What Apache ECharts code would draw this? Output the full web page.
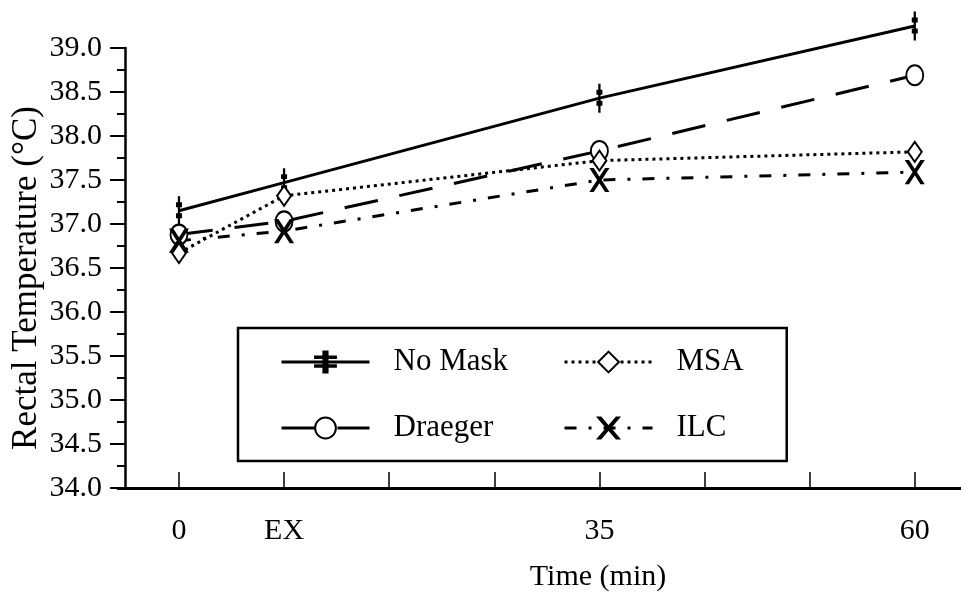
<!DOCTYPE html>
<html>
<head>
<meta charset="utf-8">
<script src="https://cdn.jsdelivr.net/npm/echarts@6/dist/echarts.min.js"></script>
<style>
html,body{margin:0;padding:0;background:#fff;}
#chart{width:961px;height:593px;}
</style>
</head>
<body>
<div id="chart"></div>
<script>
// x positions (tick index) and their labels
const timePos = [0, 1, 4, 7];
const timeLabels = ['0', 'EX', '35', '60'];
const xTickPos = [0, 1, 2, 3, 4, 5, 6, 7];

// Rectal temperature (°C)
const noMask  = [37.15, 37.47, 38.43, 39.25];
const draeger = [36.88, 37.03, 37.83, 38.69];
const msa     = [36.67, 37.32, 37.72, 37.82];
const ilc     = [36.81, 36.92, 37.50, 37.59];

const FONT = 'Liberation Serif';
const pair = arr => arr.map((v, i) => [timePos[i], v]);

const ddagger = 'path://M5,0h2v26h-2z M1,6h10v2h-10z M1,17h10v2h-10z';
const xMark = 'path://M0,0L2.5,0L10,9.5L17.5,0L20,0L11.3,11L20,22L17.5,22L10,12.5L2.5,22L0,22L8.7,11Z';

function mk(name, data, symbol, size, dash) {
  return {
    name: name, type: 'line', data: pair(data), clip: false,
    symbol: symbol, symbolSize: size, symbolKeepAspect: true,
    showAllSymbol: true,
    lineStyle: {color: '#000', width: 3, type: dash},
    itemStyle: {color: '#000', borderColor: '#000', borderWidth: 2},
    emphasis: {disabled: true}
  };
}

const chart = echarts.init(document.getElementById('chart'), null, {renderer: 'canvas'});
chart.setOption({
  animation: false,
  backgroundColor: '#fff',
  grid: {left: 118, right: 0, top: 48, bottom: 105, containLabel: false, outerBoundsMode: 'none'},
  xAxis: {
    type: 'value', min: -0.58, max: 7.44,
    axisLine: {onZero: false, lineStyle: {color: '#000', width: 3}},
    axisTick: {show: true, inside: true, length: 16, customValues: xTickPos, lineStyle: {color: '#000', width: 1.5}},
    axisLabel: {customValues: timePos, margin: 28, color: '#000', fontFamily: FONT, fontSize: 30,
      formatter: v => { const i = timePos.indexOf(v); return i >= 0 ? timeLabels[i] : ''; }},
    splitLine: {show: false},
    name: 'Time (min)', nameLocation: 'middle', nameGap: 74, nameMoveOverlap: false,
    nameTextStyle: {color: '#000', fontFamily: FONT, fontSize: 30, padding: [0, 0, 0, 117]}
  },
  yAxis: {
    type: 'value', min: 34, max: 39, interval: 0.5, offset: -7,
    axisLine: {show: true, onZero: false, lineStyle: {color: '#000', width: 2.5}},
    axisTick: {show: true, length: 15, lineStyle: {color: '#000', width: 2}},
    minorTick: {show: true, splitNumber: 2, length: 8, lineStyle: {color: '#000', width: 2}},
    axisLabel: {margin: 23, color: '#000', fontFamily: FONT, fontSize: 30, formatter: v => v.toFixed(1)},
    splitLine: {show: false},
    name: 'Rectal Temperature (°C)', nameLocation: 'middle', nameGap: 81, nameMoveOverlap: false,
    nameTextStyle: {color: '#000', fontFamily: FONT, fontSize: 35, padding: [0, 20, 0, 0]}
  },
  legend: {
    orient: 'vertical', left: 238, top: 328, height: 140,
    padding: [16, 18, 15, 42],
    itemWidth: 88, itemHeight: 26, itemGap: 30,
    borderColor: '#000', borderWidth: 2.5,
    lineStyle: {width: 3},
    textStyle: {color: '#000', fontFamily: FONT, fontSize: 31, lineHeight: 36, padding: [0, 25, 0, 19]},
    data: ['No Mask', 'Draeger', 'MSA', 'ILC'],
    selectedMode: false
  },
  series: [
    mk('No Mask', noMask, ddagger, [12, 26], 'solid'),
    mk('Draeger', draeger, 'emptyCircle', [17, 20], [34, 22]),
    mk('MSA', msa, 'emptyDiamond', [14, 20], [3, 4]),
    mk('ILC', ilc, xMark, [18, 22], [12, 12, 3, 12])
  ]
});
</script>
</body>
</html>
